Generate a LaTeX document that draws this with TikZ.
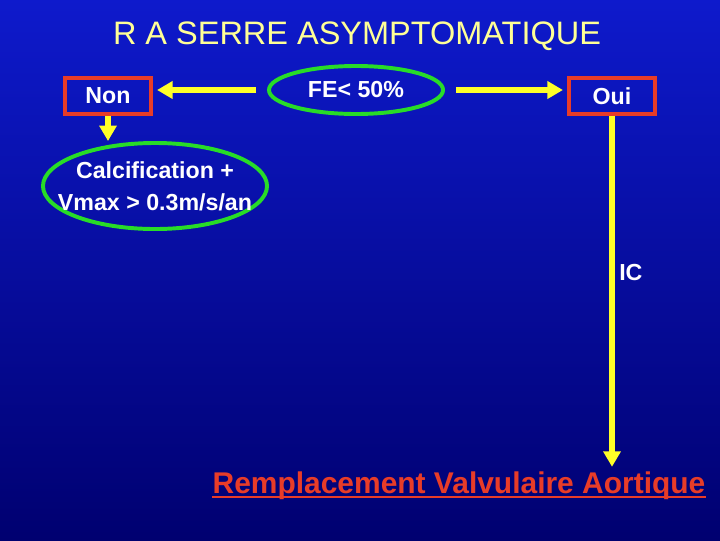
\documentclass[tikz,border=0pt]{standalone}
\usepackage{fontspec}
\setmainfont{Liberation Sans}
\usetikzlibrary{positioning,shapes.geometric,arrows.meta}
\definecolor{bgtop}{RGB}{14,26,204}
\definecolor{bgbot}{RGB}{0,0,112}
\definecolor{arrowyellow}{RGB}{255,255,40}
\definecolor{ovalgreen}{RGB}{40,220,40}
\definecolor{boxred}{RGB}{232,60,40}
\definecolor{titleyellow}{RGB}{255,255,150}
\begin{document}
\begin{tikzpicture}[x=0.025cm,y=-0.025cm,
		boxnode/.style={draw=boxred,line width=2.6pt,text=white,inner sep=0pt,minimum width=2.15cm,minimum height=0.9cm,font=\fontsize{16.5}{20}\selectfont\bfseries},
		ovalnode/.style={ellipse,draw=ovalgreen,line width=2.8pt,text=white,inner sep=0pt,align=center,font=\fontsize{16.5}{22.7}\selectfont\bfseries},
		flow/.style={draw=arrowyellow,line width=4.5pt,-{Triangle[length=11pt,width=12pt]}}]
		\shade[top color=bgtop,bottom color=bgbot](0,0) rectangle (720,540);
		\node[text=titleyellow,font=\fontsize{23.1}{27}\selectfont] (title) at (357,36) {R A SERRE ASYMPTOMATIQUE};
		\node[boxnode] (non) at (108,96) {Non};
		\node[boxnode] (oui) at (612,96) {Oui};
		\node[ovalnode,minimum width=4.35cm,minimum height=1.2cm] (fe) at (356,90) {FE< 50\%};
		\node[ovalnode,inner xsep=-0.5cm,inner ysep=-0.1cm,minimum width=5.6cm,minimum height=2.15cm] (calc) at (155,186) {Calcification +\\Vmax > 0.3m/s/an};
		\node[anchor=west,text=white,inner sep=0pt,font=\fontsize{16.5}{20}\selectfont\bfseries] (ic) at (619,273) {IC};
		\node[anchor=base,text=boxred,inner sep=0pt,font=\fontsize{21.3}{26}\selectfont\bfseries] (rva) at (459,493) {Remplacement Valvulaire Aortique};
		\draw[boxred,line width=1.8pt]([yshift=-3pt]rva.base west)--([yshift=-3pt]rva.base east);
		\draw[flow,shorten <=8pt,shorten >=3pt](fe.west)--(fe.west -| non.east);
		\draw[flow,shorten <=8pt,shorten >=3pt](fe.east)--(fe.east -| oui.west);
		\draw[flow](non.south)--(non.south |- calc.north);
		\draw[flow,shorten >=3pt](oui.south)--(oui.south |- rva.north);
	\end{tikzpicture}
\end{document}
